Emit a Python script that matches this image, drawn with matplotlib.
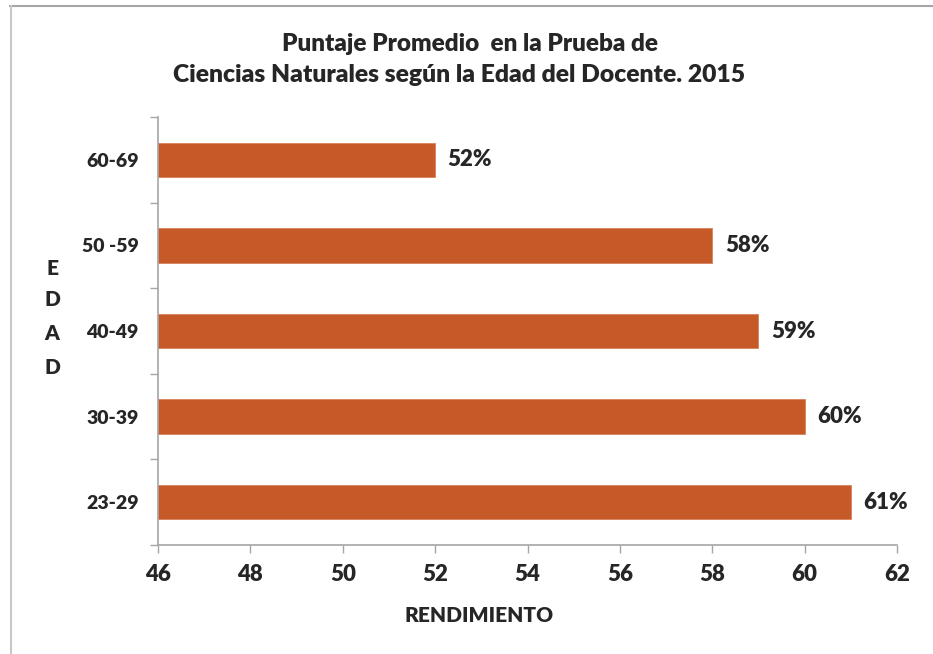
import matplotlib
matplotlib.use("Agg")
import matplotlib.pyplot as plt
from matplotlib.lines import Line2D

# Puntaje promedio por grupo de edad del docente
edades = ["23-29", "30-39", "40-49", "50 -59", "60-69"]
puntajes = [61, 60, 59, 58, 52]
etiquetas = ["61%", "60%", "59%", "58%", "52%"]
x_ticks = [46, 48, 50, 52, 54, 56, 58, 60, 62]

plt.rcParams["font.family"] = ["Lato", "DejaVu Sans"]
PESO = "heavy"
TXT = "#262626"

W, H = 933, 654
fig = plt.figure(figsize=(W / 100, H / 100), dpi=100)
fig.patch.set_facecolor("white")

# Marco exterior (bordes superior e izquierdo)
fig.add_artist(Line2D([10 / W, 1], [1 - 6 / H, 1 - 6 / H], color="#a6a6a6", lw=1.5,
                      transform=fig.transFigure))
fig.add_artist(Line2D([10.5 / W, 10.5 / W], [0, 1 - 6 / H], color="#c8c8c8", lw=1.5,
                      transform=fig.transFigure))

ax = fig.add_axes([158 / W, 1 - 545 / H, 739 / W, 428 / H])
pos = list(range(len(edades)))
ax.barh(pos, puntajes, height=0.4, left=0, color="#c55a28", edgecolor="#d9825a", lw=0.6)

ax.set_xlim(46, 62)
ax.set_ylim(-0.5, len(edades) - 0.5)
ax.set_xticks(x_ticks)
ax.set_xticklabels([str(t) for t in x_ticks], fontsize=16, fontweight=PESO, color=TXT)

# Marcas en los límites de categoría, etiquetas en el centro
ax.set_yticks([p - 0.5 for p in pos] + [len(edades) - 0.5])
ax.set_yticklabels([])
ax.set_yticks(pos, minor=True)
ax.set_yticklabels(edades, minor=True, fontsize=14, fontweight=PESO, color=TXT)
ax.tick_params(axis="y", which="major", length=6, color="#a6a6a6", width=1)
ax.tick_params(axis="y", which="minor", length=0, pad=14)
ax.tick_params(axis="x", length=6, color="#a6a6a6", width=1, pad=8)

for s in ["top", "right"]:
    ax.spines[s].set_visible(False)
for s in ["left", "bottom"]:
    ax.spines[s].set_color("#a6a6a6")
    ax.spines[s].set_linewidth(1.2)

for p, v, t in zip(pos, puntajes, etiquetas):
    ax.annotate(t, xy=(v, p), xytext=(9, 0), textcoords="offset points",
                ha="left", va="center", fontsize=16, fontweight=PESO, color=TXT)

fig.text(470 / W, 1 - 44 / H, "Puntaje Promedio  en la Prueba de", ha="center", va="center",
         fontsize=17.5, fontweight=PESO, color=TXT)
fig.text(459 / W, 1 - 75 / H, "Ciencias Naturales según la Edad del Docente. 2015",
         ha="center", va="center", fontsize=17.7, fontweight=PESO, color=TXT)

fig.text(479 / W, 1 - 615 / H, "RENDIMIENTO", ha="center", va="center",
         fontsize=15, fontweight=PESO, color=TXT)

for letra, y in zip("EDAD", [268, 300, 334, 368]):
    fig.text(52 / W, 1 - y / H, letra, ha="center", va="center",
             fontsize=15, fontweight=PESO, color=TXT)

fig.savefig("out.png", dpi=100, facecolor="white")
